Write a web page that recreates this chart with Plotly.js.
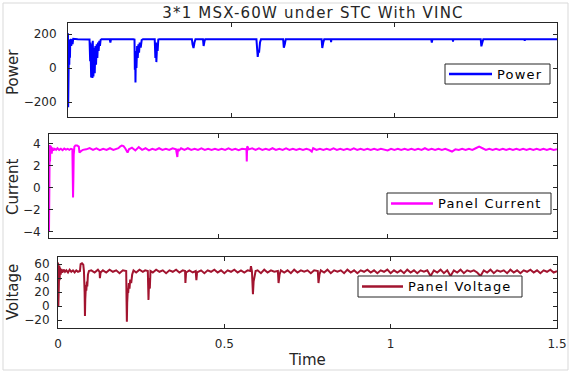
<!DOCTYPE html>
<html>
<head>
<meta charset="utf-8">
<script src="https://cdn.plot.ly/plotly-3.0.1.min.js"></script>
<style>
  html, body { margin: 0; padding: 0; background: #fff; }
  #chart { width: 571px; height: 372px; }
  .gtitle { letter-spacing: 1.2px; }
</style>
</head>
<body>
<div id="chart"></div>
<script>
// ---------------- DATA ----------------
const chartTitle = "3*1 MSX-60W under STC With VINC";
const seriesNames = ["Power", "Panel Current", "Panel Voltage"];
const yTitles = ["Power", "Current", "Voltage"];
const xTitle = "Time";
const xTickVals = [0, 0.5, 1, 1.5];
const xTickText = ["0", "0.5", "1", "1.5"];
const powerTicks = [-200, 0, 200];
const currentTicks = [-4, -2, 0, 2, 4];
const voltageTicks = [-20, 0, 20, 40, 60];

const powerTime = [
  0, 0.0005, 0.001, 0.002, 0.003, 0.004, 0.005, 0.006, 0.007, 0.008,
  0.009, 0.010, 0.012, 0.014, 0.016, 0.030, 0.045, 0.060, 0.066, 0.068,
  0.069, 0.071, 0.073, 0.075, 0.076, 0.078, 0.080, 0.082, 0.084, 0.086,
  0.088, 0.090, 0.092, 0.094, 0.096, 0.098, 0.100, 0.103, 0.128, 0.130,
  0.132, 0.200, 0.204, 0.205, 0.206, 0.207, 0.208, 0.210, 0.212, 0.214,
  0.216, 0.218, 0.220, 0.223, 0.226, 0.230, 0.266, 0.268, 0.270, 0.271,
  0.273, 0.275, 0.277, 0.280, 0.380, 0.382, 0.385, 0.388, 0.391, 0.414,
  0.416, 0.419, 0.421, 0.578, 0.580, 0.582, 0.584, 0.586, 0.589, 0.592,
  0.660, 0.662, 0.665, 0.668, 0.778, 0.780, 0.783, 0.786, 0.806, 0.807,
  0.808, 1.114, 1.116, 1.118, 1.180, 1.181, 1.182, 1.266, 1.268, 1.271,
  1.274, 1.400, 1.401, 1.402, 1.500
];
const powerValue = [
  205, -230, 160, 0, 150, 20, 165, 60, 170, 100,
  165, 130, 170, 140, 172, 170, 171, 170, 168, 40,
  150, -55, 140, -58, 160, -50, 120, -30, 130, 20,
  140, 60, 150, 100, 160, 130, 165, 170, 170, 150,
  170, 170, 168, -10, 100, -85, 60, 0, 130, 60,
  140, 90, 150, 120, 165, 170, 170, 60, 150, 35,
  120, 100, 168, 170, 170, 140, 118, 150, 170, 170,
  130, 160, 170, 170, 120, 65, 100, 90, 150, 170,
  170, 120, 140, 170, 170, 118, 150, 170, 170, 152,
  170, 170, 150, 170, 170, 155, 170, 170, 128, 150,
  170, 170, 160, 170, 170
];

const currentTime = [
  0, 0.0005, 0.001, 0.002, 0.003, 0.004, 0.005, 0.006, 0.008, 0.010,
  0.013, 0.017, 0.021, 0.025, 0.03, 0.035, 0.04, 0.045, 0.05, 0.055,
  0.06, 0.065, 0.069, 0.070, 0.071, 0.072, 0.073, 0.075, 0.078, 0.083,
  0.088, 0.090, 0.095, 0.10, 0.11, 0.12, 0.13, 0.14, 0.15, 0.16,
  0.17, 0.18, 0.19, 0.20, 0.205, 0.21, 0.215, 0.22, 0.225, 0.232,
  0.236, 0.245, 0.255, 0.265, 0.275, 0.285, 0.295, 0.305, 0.315, 0.325,
  0.335, 0.345, 0.355, 0.365, 0.375, 0.379, 0.381, 0.383, 0.39, 0.40,
  0.41, 0.42, 0.43, 0.44, 0.45, 0.46, 0.47, 0.48, 0.49, 0.50,
  0.51, 0.52, 0.53, 0.54, 0.55, 0.56, 0.57, 0.58, 0.583, 0.584,
  0.585, 0.587, 0.59, 0.60, 0.61, 0.62, 0.63, 0.64, 0.65, 0.66,
  0.67, 0.68, 0.69, 0.70, 0.71, 0.72, 0.73, 0.74, 0.75, 0.76,
  0.77, 0.776, 0.78, 0.79, 0.80, 0.81, 0.82, 0.83, 0.84, 0.85,
  0.86, 0.87, 0.88, 0.89, 0.90, 0.91, 0.92, 0.93, 0.94, 0.95,
  0.96, 0.97, 0.98, 0.99, 1.00, 1.01, 1.02, 1.03, 1.04, 1.05,
  1.06, 1.07, 1.08, 1.09, 1.10, 1.11, 1.12, 1.13, 1.14, 1.15,
  1.16, 1.17, 1.18, 1.19, 1.20, 1.21, 1.22, 1.23, 1.24, 1.25,
  1.26, 1.27, 1.28, 1.29, 1.30, 1.31, 1.32, 1.33, 1.34, 1.35,
  1.36, 1.37, 1.38, 1.39, 1.40, 1.41, 1.42, 1.43, 1.44, 1.45,
  1.46, 1.47, 1.48, 1.49, 1.50
];
const currentValue = [
  -4.0, 3.8, 2.2, 3.9, 2.4, 3.8, 2.6, 3.7, 3.1, 3.65,
  3.4, 3.55, 3.45, 3.6, 3.45, 3.55, 3.42, 3.58, 3.47, 3.55,
  3.45, 3.55, 3.5, 1.5, -0.9, 0.8, 3.0, 3.75, 3.85, 3.85,
  3.75, 3.2, 3.35, 3.45, 3.5, 3.62, 3.45, 3.58, 3.42, 3.55,
  3.45, 3.6, 3.45, 3.55, 3.6, 3.75, 3.85, 3.8, 3.6, 3.2,
  3.5, 3.65, 3.4, 3.7, 3.45, 3.6, 3.4, 3.55, 3.45, 3.6,
  3.45, 3.55, 3.45, 3.6, 3.5, 2.8, 3.55, 3.35, 3.6, 3.45,
  3.6, 3.45, 3.55, 3.45, 3.58, 3.45, 3.55, 3.45, 3.55, 3.45,
  3.55, 3.45, 3.58, 3.45, 3.55, 3.42, 3.55, 3.5, 3.55, 2.4,
  3.75, 3.7, 3.5, 3.6, 3.45, 3.58, 3.45, 3.55, 3.45, 3.6,
  3.45, 3.55, 3.45, 3.58, 3.45, 3.55, 3.45, 3.55, 3.45, 3.55,
  3.45, 3.3, 3.6, 3.45, 3.55, 3.45, 3.55, 3.45, 3.58, 3.45,
  3.55, 3.45, 3.55, 3.45, 3.58, 3.45, 3.55, 3.45, 3.55, 3.45,
  3.55, 3.45, 3.55, 3.45, 3.4, 3.55, 3.45, 3.55, 3.45, 3.55,
  3.45, 3.55, 3.45, 3.55, 3.45, 3.6, 3.45, 3.55, 3.45, 3.55,
  3.45, 3.55, 3.45, 3.3, 3.5, 3.45, 3.55, 3.45, 3.55, 3.45,
  3.6, 3.75, 3.6, 3.45, 3.55, 3.45, 3.55, 3.45, 3.55, 3.45,
  3.55, 3.45, 3.55, 3.45, 3.55, 3.45, 3.55, 3.45, 3.55, 3.45,
  3.55, 3.45, 3.55, 3.45, 3.5
];

const voltageTime = [
  0, 0.0005, 0.001, 0.002, 0.003, 0.004, 0.005, 0.006, 0.008, 0.010,
  0.013, 0.017, 0.021, 0.025, 0.03, 0.035, 0.04, 0.045, 0.05, 0.055,
  0.06, 0.066, 0.068, 0.072, 0.076, 0.078, 0.080, 0.081, 0.082, 0.084,
  0.085, 0.087, 0.088, 0.090, 0.093, 0.10, 0.11, 0.12, 0.125, 0.126,
  0.128, 0.135, 0.145, 0.155, 0.165, 0.175, 0.185, 0.195, 0.205, 0.206,
  0.207, 0.208, 0.210, 0.211, 0.213, 0.215, 0.217, 0.220, 0.223, 0.227,
  0.235, 0.245, 0.255, 0.262, 0.270, 0.272, 0.274, 0.276, 0.278, 0.285,
  0.295, 0.305, 0.315, 0.325, 0.335, 0.345, 0.355, 0.365, 0.375, 0.382,
  0.383, 0.385, 0.395, 0.405, 0.414, 0.416, 0.418, 0.43, 0.44, 0.45,
  0.46, 0.47, 0.48, 0.49, 0.50, 0.51, 0.52, 0.53, 0.54, 0.55,
  0.56, 0.57, 0.578, 0.580, 0.583, 0.586, 0.588, 0.590, 0.594, 0.60,
  0.61, 0.62, 0.63, 0.64, 0.65, 0.661, 0.663, 0.666, 0.67, 0.68,
  0.69, 0.70, 0.71, 0.72, 0.73, 0.74, 0.75, 0.76, 0.77, 0.781,
  0.783, 0.786, 0.79, 0.80, 0.81, 0.82, 0.83, 0.84, 0.85, 0.86,
  0.87, 0.88, 0.89, 0.90, 0.91, 0.92, 0.93, 0.94, 0.95, 0.96,
  0.97, 0.98, 0.99, 1.00, 1.01, 1.02, 1.03, 1.04, 1.05, 1.06,
  1.07, 1.08, 1.09, 1.10, 1.11, 1.12, 1.13, 1.14, 1.15, 1.16,
  1.17, 1.18, 1.19, 1.20, 1.21, 1.22, 1.23, 1.24, 1.25, 1.26,
  1.27, 1.28, 1.29, 1.30, 1.31, 1.32, 1.33, 1.34, 1.35, 1.36,
  1.37, 1.38, 1.39, 1.40, 1.41, 1.42, 1.43, 1.44, 1.45, 1.46,
  1.47, 1.48, 1.49, 1.50
];
const voltageValue = [
  62, 58, 0, 52, 40, 58, 37, 55, 45, 53,
  48, 52, 49, 51, 48, 52, 49, 51, 48, 51,
  49, 50, 60, 61, 59, 50, 20, -14, 10, 30,
  22, 35, 28, 45, 50, 51, 48, 52, 49, 40,
  48, 51, 48, 52, 49, 51, 47, 51, 50, 10,
  -22, 5, 25, 19, 33, 25, 38, 33, 45, 51,
  48, 52, 49, 51, 50, 9, 40, 25, 50, 48,
  52, 49, 51, 47, 51, 49, 52, 48, 51, 50,
  33, 48, 51, 48, 50, 37, 48, 51, 47, 51,
  49, 52, 48, 51, 47, 51, 49, 52, 48, 51,
  48, 51, 50, 57, 50, 17, 35, 40, 50, 51,
  47, 52, 48, 51, 49, 50, 33, 45, 51, 48,
  51, 47, 52, 48, 51, 49, 51, 47, 51, 50,
  33, 45, 51, 48, 52, 47, 51, 49, 51, 47,
  52, 48, 51, 47, 51, 49, 52, 48, 51, 47,
  51, 49, 52, 47, 51, 48, 51, 47, 52, 48,
  51, 47, 51, 49, 51, 43, 51, 48, 52, 47,
  51, 43, 51, 48, 52, 47, 51, 49, 51, 48,
  43, 51, 48, 52, 47, 51, 49, 51, 47, 52,
  48, 51, 47, 51, 49, 52, 48, 51, 47, 51,
  49, 52, 48, 50
];
const seriesColors = ["#0000ff", "#ff00ff", "#a2142f"];

// ---------------- LAYOUT HELPERS ----------------
const W = 571, H = 372;
const px = v => v / W;
const py = v => 1 - v / H;
const FONT = "DejaVu Sans, sans-serif";
const INK = "#262626";

function xAxis(left, anchor, showLabels) {
  return {
    domain: [px(left), px(557)], anchor: anchor, range: [0, 1.5],
    tickvals: xTickVals, ticktext: xTickText, showticklabels: showLabels,
    ticks: "inside", ticklen: 4, tickcolor: INK, showline: true, linecolor: INK,
    linewidth: 1, mirror: "ticks", showgrid: false, zeroline: false,
    tickfont: { family: FONT, size: 12, color: INK }, fixedrange: true
  };
}
function yAxis(top, bottom, anchor, range, ticks, standoff) {
  return {
    domain: [py(bottom), py(top)], anchor: anchor, range: range,
    tickvals: ticks, ticks: "inside", ticklen: 4, tickcolor: INK,
    showline: true, linecolor: INK, linewidth: 1, mirror: "ticks",
    showgrid: false, zeroline: false, ticklabelstandoff: standoff,
    tickfont: { family: FONT, size: 12, color: INK }, fixedrange: true
  };
}

// legend boxes drawn per subplot (box left, box right, box top, box bottom, line start, line end)
const legendGeom = [
  [445, 550, 64, 84, 449, 492],
  [387, 551, 193, 214, 391, 433],
  [358, 522, 276, 297, 362, 403]
];
const shapes = [
  { type: "rect", xref: "paper", yref: "paper", x0: px(3), x1: px(568), y0: py(370), y1: py(3),
    line: { color: "#d9d9d9", width: 1 }, layer: "below" }
];
const annotations = [];
legendGeom.forEach((g, i) => {
  shapes.push({ type: "rect", xref: "paper", yref: "paper", x0: px(g[0]), x1: px(g[1]),
    y0: py(g[3]), y1: py(g[2]), fillcolor: "#ffffff", line: { color: INK, width: 1 }, layer: "above" });
  const cy = (g[2] + g[3]) / 2;
  shapes.push({ type: "line", xref: "paper", yref: "paper", x0: px(g[4]), x1: px(g[5]),
    y0: py(cy), y1: py(cy), line: { color: seriesColors[i], width: 2.5 }, layer: "above" });
  annotations.push({ text: '<span style="letter-spacing:1.2px">' + seriesNames[i] + '</span>',
    xref: "paper", yref: "paper", x: px(g[5] + 3), y: py(cy), xanchor: "left", yanchor: "middle",
    showarrow: false, font: { family: FONT, size: 13, color: "#000" } });
});
const yTitlePos = [72, 187, 292];
yTitlePos.forEach((yy, i) => {
  annotations.push({ text: yTitles[i], xref: "paper", yref: "paper", x: px(13), y: py(yy),
    xanchor: "center", yanchor: "middle", textangle: -90, showarrow: false,
    font: { family: FONT, size: 15, color: INK } });
});

const traces = [
  { x: powerTime, y: powerValue, type: "scatter", mode: "lines", name: seriesNames[0],
    line: { color: seriesColors[0], width: 2 }, xaxis: "x", yaxis: "y" },
  { x: currentTime, y: currentValue, type: "scatter", mode: "lines", name: seriesNames[1],
    line: { color: seriesColors[1], width: 2 }, xaxis: "x2", yaxis: "y2" },
  { x: voltageTime, y: voltageValue, type: "scatter", mode: "lines", name: seriesNames[2],
    line: { color: seriesColors[2], width: 2 }, xaxis: "x3", yaxis: "y3" }
];

const layout = {
  width: W, height: H, margin: { l: 0, r: 0, t: 0, b: 0 },
  paper_bgcolor: "#ffffff", plot_bgcolor: "#ffffff",
  font: { family: FONT, color: INK },
  showlegend: false,
  title: { text: chartTitle, x: 313 / W, xanchor: "center", y: py(13), yanchor: "middle",
           font: { family: FONT, size: 15, color: INK } },
  xaxis: xAxis(68, "y", false),
  yaxis: yAxis(23, 117, "x", [-288, 265], powerTicks, 8),
  xaxis2: xAxis(49, "y2", false),
  yaxis2: yAxis(134, 238, "x2", [-4.6, 4.9], currentTicks, 5),
  xaxis3: Object.assign(xAxis(58, "y3", true), { ticklabelstandoff: 5,
    title: { text: xTitle, standoff: 4, font: { family: FONT, size: 15, color: INK } } }),
  yaxis3: yAxis(257, 328, "x3", [-31, 70], voltageTicks, 5),
  annotations: annotations,
  shapes: shapes
};

Plotly.newPlot("chart", traces, layout, { staticPlot: true, displayModeBar: false });
</script>
</body>
</html>
